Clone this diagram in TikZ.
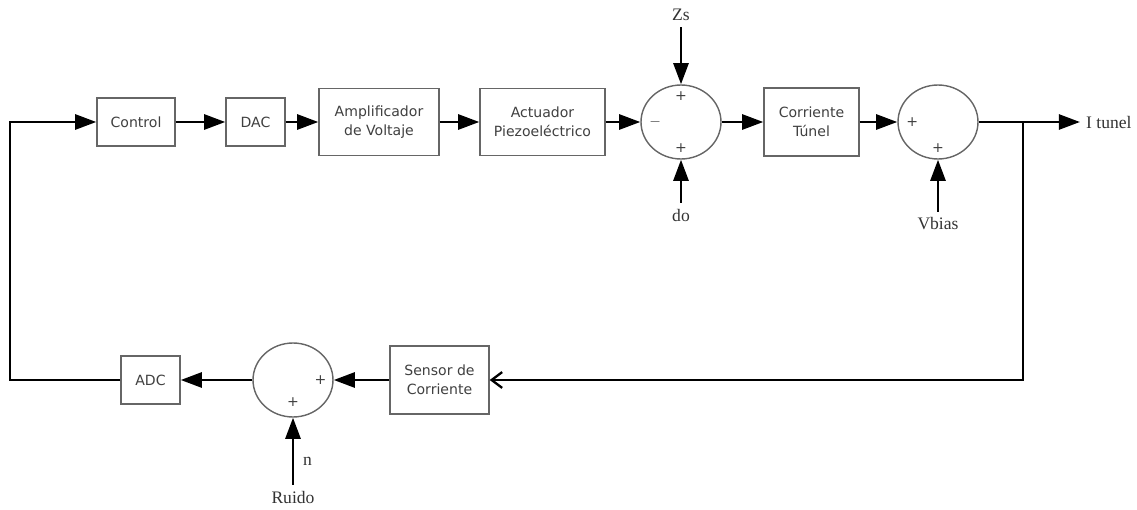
\documentclass[tikz,border=0pt]{standalone}
\usepackage{fontspec}
\setmainfont{Liberation Serif}
\newfontfamily\blkfont{DejaVu Sans}
\usetikzlibrary{positioning}
\usetikzlibrary{arrows.meta}
\usetikzlibrary{shapes.geometric}

\begin{document}
\begin{tikzpicture}[
  x=0.02cm, y=-0.02cm,
  block/.style = {draw=black!60, line width=0.8pt, fill=white, text=black!75,
    font=\blkfont\fontsize{8}{11}\selectfont, align=center, inner sep=2pt},
  sumnode/.style = {draw=black!60, line width=0.8pt, ellipse, fill=white,
    minimum width=1.6cm, minimum height=1.48cm, inner sep=0pt},
  sign/.style = {font=\blkfont\fontsize{8}{9}\selectfont, text=black!75, inner sep=1pt},
  lbl/.style = {font=\fontsize{10}{12}\selectfont, text=black!80},
  line/.style = {line width=1.6pt},
  fback/.style = {line width=1.3pt, -{Straight Barb[length=6pt,width=9pt]}},
  >={Triangle[length=12pt,width=8.5pt]},
]

  \useasboundingbox (0,0) rectangle (1137,510);

  % forward path
  \node[block, minimum width=1.56cm, minimum height=0.96cm] (ctrl) at (136,122) {Control};
  \node[block, minimum width=1.18cm, minimum height=0.96cm] (dac) at (255.5,122) {DAC};
  \node[block, minimum width=2.4cm, minimum height=1.34cm] (amp) at (379,122) {Amplificador\\de Voltaje};
  \node[block, minimum width=2.5cm, minimum height=1.34cm] (act) at (542.5,122) {Actuador\\Piezoeléctrico};
  \node[sumnode] (sum1) at (681,122) {};
  \node[block, minimum width=1.9cm, minimum height=1.36cm] (tun) at (811.5,122) {Corriente\\Túnel};
  \node[sumnode] (sum2) at (938,122) {};
  \coordinate (br) at (1023,122);
  \node[lbl, anchor=west] (itun) at (1080,122) {I tunel};

  \node[lbl] (zs) at (681,15) {Zs};
  \node[lbl] (do) at (681,215) {do};
  \node[lbl] (vb) at (938,224) {Vbias};

  % signs
  \node[sign, right=4pt of sum1.west] {$-$};
  \node[sign, below=3pt of sum1.north] {+};
  \node[sign, above=3pt of sum1.south] {+};
  \node[sign, right=4pt of sum2.west] {+};
  \node[sign, above=3pt of sum2.south] {+};

  % feedback path
  \node[block, minimum width=1.98cm, minimum height=1.36cm] (sens) at (439.5,380) {Sensor de\\Corriente};
  \node[sumnode] (sum3) at (293,380) {};
  \node[block, minimum width=1.18cm, minimum height=0.96cm] (adc) at (150.5,380) {ADC};
  \coordinate (lc) at (10,380);
  \node[sign, left=3pt of sum3.east] {+};
  \node[sign, above=5pt of sum3.south] {+};

  \node[lbl] (ruido) at (293,497) {Ruido};
  \node[lbl, anchor=west] (nn) at (297,461) {n};

  % connectors
  \draw[line,->] (ctrl) -- (dac);
  \draw[line,->] (dac) -- (amp);
  \draw[line,->] (amp) -- (act);
  \draw[line,->] (act) -- (sum1);
  \draw[line,->] (sum1) -- (tun);
  \draw[line,->] (tun) -- (sum2);
  \draw[line,->] (sum2) -- (itun.west);
  \draw[line,->] (zs) -- (sum1.north);
  \draw[line,->] (do) -- (sum1.south);
  \draw[line,->] (vb) -- (sum2.south);

  \draw[fback] (br) |- (sens.east);
  \draw[line,->] (sens) -- (sum3);
  \draw[line,->] (sum3) -- (adc);
  \draw[line,->] (ruido) -- (sum3.south);
  \draw[line,->] (adc.west) -- (lc) |- (ctrl.west);

\end{tikzpicture}
\end{document}
